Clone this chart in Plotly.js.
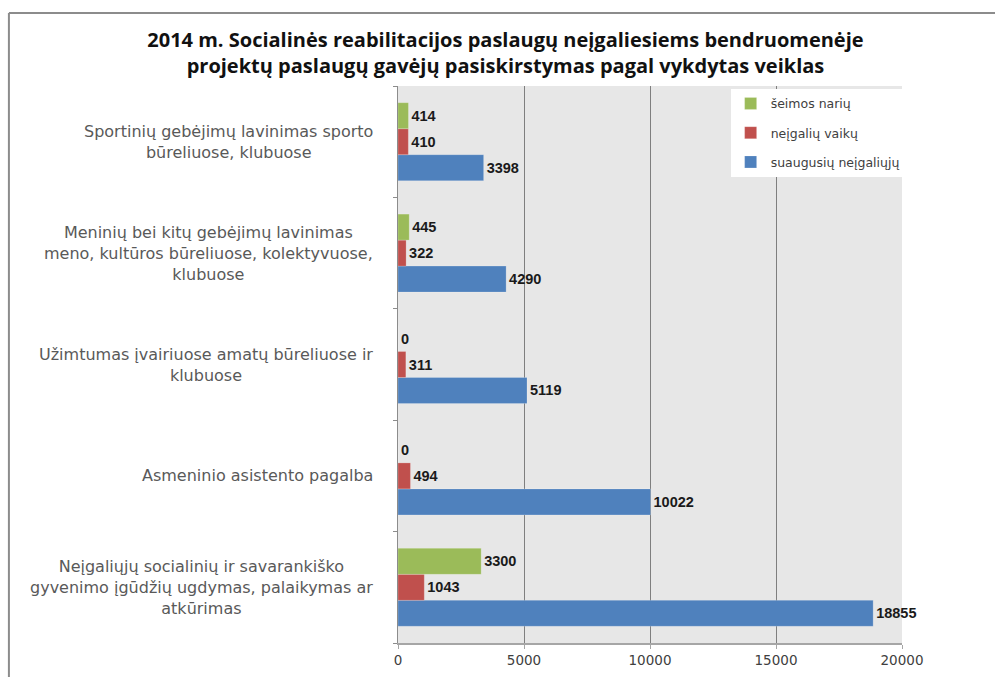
<!DOCTYPE html>
<html>
<head>
<meta charset="utf-8">
<script src="https://cdn.plot.ly/plotly-3.0.1.min.js"></script>
<style>html,body{margin:0;padding:0;background:#fff;}#chart{width:995px;height:677px;}</style>
</head>
<body>
<div id="chart"></div>
<script>
// Categories listed bottom to top (Plotly category order)
const categories = [
  "Neįgaliųjų socialinių ir savarankiško<br>gyvenimo įgūdžių ugdymas, palaikymas ar<br>atkūrimas",
  "Asmeninio asistento pagalba",
  "Užimtumas įvairiuose amatų būreliuose ir<br>klubuose",
  "Meninių bei kitų gebėjimų lavinimas<br>meno, kultūros būreliuose, kolektyvuose,<br>klubuose",
  "Sportinių gebėjimų lavinimas sporto<br>būreliuose, klubuose"
];
const seriesNames = ["suaugusių neįgaliųjų", "neįgalių vaikų", "šeimos narių"];
const adults   = [18855, 10022, 5119, 4290, 3398];
const children = [1043, 494, 311, 322, 410];
const family   = [3300, 0, 0, 445, 414];
const xTicks = [0, 5000, 10000, 15000, 20000];

const colors = ["#4F81BD", "#C0504D", "#9BBB59"];
const values = [adults, children, family];
const ranks = [3, 2, 1];

const traces = values.map((v, i) => ({
  type: "bar",
  orientation: "h",
  name: seriesNames[i],
  y: categories,
  x: v,
  legendgroup: "g" + i,
  legendrank: ranks[i],
  marker: {color: colors[i], line: {color: "rgba(255,255,255,0.4)", width: 0.5}},
  text: v.map(String),
  textposition: "outside",
  cliponaxis: false,
  textfont: {family: "Liberation Sans, Arial, sans-serif", size: 14.5, color: "#1a1a1a", weight: "bold"},
  hoverinfo: "x+name"
}));

const annotations = categories.map(c => ({
  xref: "paper", yref: "y", x: -0.045, y: c,
  xanchor: "right", yanchor: "middle", align: "center",
  text: c, showarrow: false,
  font: {family: "DejaVu Sans, sans-serif", size: 16, color: "#595959"}
}));

const layout = {
  width: 995, height: 677,
  margin: {l: 398, r: 93, t: 86, b: 34},
  paper_bgcolor: "#ffffff",
  plot_bgcolor: "#e7e7e7",
  barmode: "group",
  bargap: 0.3,
  bargroupgap: 0,
  title: {
    text: "<b>2014 m. Socialinės reabilitacijos paslaugų neįgaliesiems bendruomenėje<br>projektų paslaugų gavėjų pasiskirstymas pagal vykdytas veiklas</b>",
    x: 0.508, xanchor: "center", y: 0.93, yanchor: "top",
    font: {family: "Open Sans, sans-serif", size: 20, color: "#111111"}
  },
  xaxis: {
    range: [0, 20000],
    tickvals: xTicks,
    ticktext: xTicks.map(String),
    showgrid: true, gridcolor: "#7f7f7f", gridwidth: 1,
    zeroline: false,
    showline: true, linecolor: "#a6a6a6", linewidth: 2,
    ticks: "outside", ticklen: 4, tickcolor: "#a6a6a6",
    tickfont: {family: "DejaVu Sans, sans-serif", size: 13.5, color: "#404040"},
    fixedrange: true
  },
  yaxis: {
    type: "category",
    categoryorder: "array", categoryarray: categories,
    showticklabels: false,
    showgrid: false, zeroline: false,
    showline: true, linecolor: "#8c8c8c", linewidth: 1.5,
    ticks: "outside", ticklen: 4, tickcolor: "#8c8c8c",
    tickson: "boundaries",
    fixedrange: true
  },
  legend: {
    x: 0.66, xanchor: "left", y: 0.995, yanchor: "top",
    bgcolor: "#ffffff", borderwidth: 0,
    traceorder: "grouped", tracegroupgap: 10,
    itemwidth: 30,
    font: {family: "DejaVu Sans, sans-serif", size: 12.5, color: "#404040"}
  },
  annotations: annotations,
  shapes: [
    {type: "line", xref: "paper", yref: "paper", x0: -0.772, x1: 1.2, y0: 1.131, y1: 1.131, line: {color: "#8c8c8c", width: 2}},
    {type: "line", xref: "paper", yref: "paper", x0: -0.772, x1: -0.772, y0: 1.131, y1: -0.1, line: {color: "#8c8c8c", width: 2}}
  ],
  showlegend: true
};

Plotly.newPlot("chart", traces, layout, {displayModeBar: false, staticPlot: true});
</script>
</body>
</html>
